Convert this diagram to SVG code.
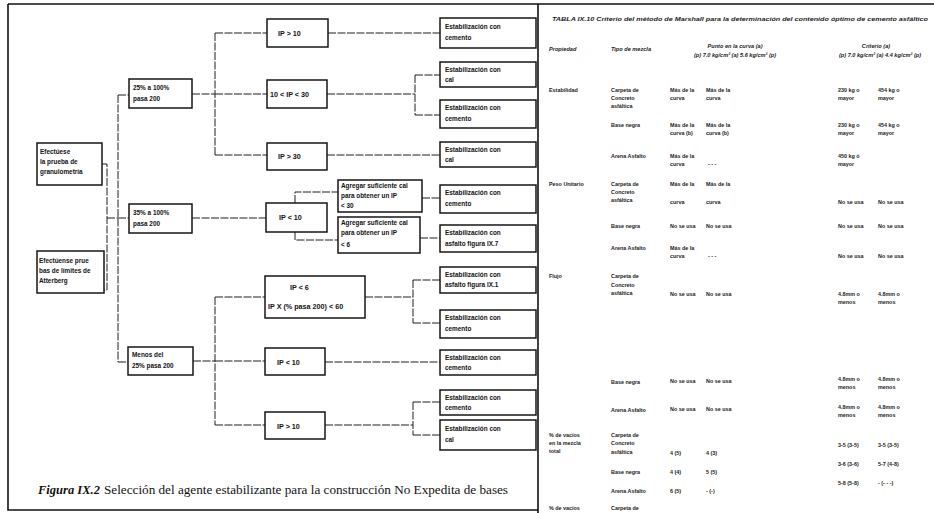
<svg xmlns="http://www.w3.org/2000/svg" width="934" height="513" viewBox="0 0 934 513">
<style>
.box{fill:#fff;stroke:#161616;stroke-width:1.5}
.ln{fill:none;stroke:#1e1e1e;stroke-width:1;stroke-dasharray:8 1.5}
.fr{fill:none;stroke:#111;stroke-width:1.6}
.t{font-family:"Liberation Sans",Arial,sans-serif;font-weight:bold;font-size:6.4px;fill:#111}
.tm{font-family:"Liberation Sans",Arial,sans-serif;font-weight:bold;font-size:7.2px;fill:#111}
.tb{font-family:"Liberation Sans",Arial,sans-serif;font-weight:bold;font-size:5.4px;fill:#222}
.th{font-family:"Liberation Sans",Arial,sans-serif;font-weight:bold;font-style:italic;font-size:5.6px;fill:#222}
.c{text-anchor:middle}
</style>
<rect x="0" y="0" width="934" height="513" fill="#fff"/>
<g id="frame">
<path class="fr" d="M8 4H934M8 4V510H538M538 4V513"/>
</g>
<g id="connectors">
<path class="ln" d="M102 164H107V290H104M107 218H118M118 95V362M118 95H129M118 218H129M118 362H128"/>
<path class="ln" d="M192 94H215M215 33V155M215 33H267M215 94H267M215 155H267"/>
<path class="ln" d="M192 218H266"/>
<path class="ln" d="M193 361H215M215 297V425M215 297H265M215 361H265M215 425H265"/>
<path class="ln" d="M328 33H440M327 94H415M415 75V115M415 75H440M415 115H440M327 155H440"/>
<path class="ln" d="M295 203V192H338M295 232V240H338M422 198H440M420 238H440"/>
<path class="ln" d="M365 297H413M413 280V323M413 280H440M413 323H440M325 362H440M325 425H413M413 402V435M413 402H440M413 435H440"/>
</g>
<g id="n-granulometria"><rect class="box" x="37" y="143" width="65" height="42"/><text class="t" x="40" y="154">Efectúese</text><text class="t" x="40" y="164">la prueba de</text><text class="t" x="40" y="174">granulometría</text></g>
<g id="n-atterberg"><rect class="box" x="37" y="251" width="67" height="42"/><text class="t" x="39" y="263">Efectúense prue</text><text class="t" x="39" y="273">bas de límites de</text><text class="t" x="39" y="283">Atterberg</text></g>
<g id="n-25"><rect class="box" x="129" y="79" width="63" height="29"/><text class="t" x="133" y="90">25% a 100%</text><text class="t" x="133" y="101">pasa 200</text></g>
<g id="n-35"><rect class="box" x="129" y="204" width="63" height="29"/><text class="t" x="133" y="215">35% a 100%</text><text class="t" x="133" y="226">pasa 200</text></g>
<g id="n-menos"><rect class="box" x="128" y="347" width="65" height="28"/><text class="t" x="132" y="357">Menos del</text><text class="t" x="132" y="368">25% pasa 200</text></g>
<g id="n-a"><rect class="box" x="267" y="19" width="61" height="28"/><text class="tm" x="278" y="36">IP &gt; 10</text></g>
<g id="n-b"><rect class="box" x="267" y="80" width="60" height="28"/><text class="tm" x="270" y="97">10 &lt; IP &lt; 30</text></g>
<g id="n-c"><rect class="box" x="267" y="143" width="60" height="27"/><text class="tm" x="278" y="159">IP &gt; 30</text></g>
<g id="n-d"><rect class="box" x="266" y="203" width="61" height="29"/><text class="tm" x="279" y="220">IP &lt; 10</text></g>
<g id="n-e"><rect class="box" x="338" y="180" width="84" height="32"/><text class="t" x="341" y="188">Agregar suficiente cal</text><text class="t" x="341" y="198">para obtener un IP</text><text class="t" x="341" y="208">&lt; 30</text></g>
<g id="n-f"><rect class="box" x="338" y="217" width="82" height="36"/><text class="t" x="341" y="225">Agregar suficiente cal</text><text class="t" x="341" y="235">para obtener un IP</text><text class="t" x="341" y="247">&lt; 6</text></g>
<g id="n-g"><rect class="box" x="265" y="276" width="100" height="42"/><text class="tm" x="290" y="290">IP &lt; 6</text><text class="tm" x="268" y="309">IP X (% pasa 200) &lt; 60</text></g>
<g id="n-h"><rect class="box" x="265" y="348" width="60" height="27"/><text class="tm" x="277" y="365">IP &lt; 10</text></g>
<g id="n-i"><rect class="box" x="265" y="412" width="60" height="27"/><text class="tm" x="277" y="429">IP &gt; 10</text></g>
<g id="l1"><rect class="box" x="440" y="18" width="96" height="30"/><text class="t" x="445" y="29">Estabilización con</text><text class="t" x="445" y="40">cemento</text></g>
<g id="l2"><rect class="box" x="440" y="62" width="96" height="25"/><text class="t" x="445" y="72">Estabilización con</text><text class="t" x="445" y="82">cal</text></g>
<g id="l3"><rect class="box" x="440" y="100" width="96" height="28"/><text class="t" x="445" y="110">Estabilización con</text><text class="t" x="445" y="121">cemento</text></g>
<g id="l4"><rect class="box" x="440" y="142" width="96" height="25"/><text class="t" x="445" y="152">Estabilización con</text><text class="t" x="445" y="162">cal</text></g>
<g id="l5"><rect class="box" x="440" y="185" width="96" height="28"/><text class="t" x="445" y="195">Estabilización con</text><text class="t" x="445" y="206">cemento</text></g>
<g id="l6"><rect class="box" x="440" y="225" width="96" height="27"/><text class="t" x="445" y="235">Estabilización con</text><text class="t" x="445" y="246">asfalto figura IX.7</text></g>
<g id="l7"><rect class="box" x="440" y="267" width="96" height="26"/><text class="t" x="445" y="277">Estabilización con</text><text class="t" x="445" y="287">asfalto figura IX.1</text></g>
<g id="l8"><rect class="box" x="440" y="310" width="96" height="28"/><text class="t" x="445" y="320">Estabilización con</text><text class="t" x="445" y="331">cemento</text></g>
<g id="l9"><rect class="box" x="440" y="350" width="96" height="25"/><text class="t" x="445" y="360">Estabilización con</text><text class="t" x="445" y="370">cemento</text></g>
<g id="l10"><rect class="box" x="440" y="390" width="96" height="25"/><text class="t" x="445" y="400">Estabilización con</text><text class="t" x="445" y="410">cemento</text></g>
<g id="l11"><rect class="box" x="440" y="420" width="96" height="30"/><text class="t" x="445" y="431">Estabilización con</text><text class="t" x="445" y="442">cal</text></g>
<g id="caption">
<text x="38" y="494" textLength="62" lengthAdjust="spacingAndGlyphs" style="font-family:'Liberation Serif',serif;font-weight:bold;font-style:italic;font-size:13.5px;fill:#111">Figura IX.2</text>
<text x="104" y="494" textLength="404" lengthAdjust="spacingAndGlyphs" style="font-family:'Liberation Serif',serif;font-size:13.5px;fill:#111">Selección del agente estabilizante para la construcción No Expedita de bases</text>
</g>
<g id="table">
<text class="th" x="552" y="21" textLength="376" lengthAdjust="spacingAndGlyphs">TABLA IX.10 Criterio del método de Marshall para la determinación del contenido óptimo de cemento asfáltico</text>
<text class="th" x="549" y="51">Propiedad</text>
<text class="th" x="611" y="51">Tipo de mezcla</text>
<text class="th c" x="735" y="48">Punto en la curva (a)</text>
<text class="th c" x="735" y="57">(p) 7.0 kg/cm² (a) 5.6 kg/cm² (p)</text>
<text class="th c" x="876" y="48">Criterio (a)</text>
<text class="th c" x="880" y="57">(p) 7.0 kg/cm² (a) 4.4 kg/cm² (p)</text>

<text class="tb" x="549" y="92">Estabilidad</text>
<text class="tb" x="611" y="92">Carpeta de</text><text class="tb" x="611" y="100">Concreto</text><text class="tb" x="611" y="108">asfáltica</text>
<text class="tb" x="670" y="92">Más de la</text><text class="tb" x="670" y="100">curva</text>
<text class="tb" x="706" y="92">Más de la</text><text class="tb" x="706" y="100">curva</text>
<text class="tb" x="838" y="92">230 kg o</text><text class="tb" x="838" y="100">mayor</text>
<text class="tb" x="878" y="92">454 kg o</text><text class="tb" x="878" y="100">mayor</text>

<text class="tb" x="611" y="127">Base negra</text>
<text class="tb" x="670" y="127">Más de la</text><text class="tb" x="670" y="135">curva (b)</text>
<text class="tb" x="706" y="127">Más de la</text><text class="tb" x="706" y="135">curva (b)</text>
<text class="tb" x="838" y="127">230 kg o</text><text class="tb" x="838" y="135">mayor</text>
<text class="tb" x="878" y="127">454 kg o</text><text class="tb" x="878" y="135">mayor</text>

<text class="tb" x="611" y="158">Arena Asfalto</text>
<text class="tb" x="670" y="158">Más de la</text><text class="tb" x="670" y="166">curva</text>
<text class="tb" x="708" y="166">- - -</text>
<text class="tb" x="838" y="158">450 kg ó</text><text class="tb" x="838" y="166">mayor</text>

<text class="tb" x="549" y="186">Peso Unitario</text>
<text class="tb" x="611" y="186">Carpeta de</text><text class="tb" x="611" y="194">Concreto</text><text class="tb" x="611" y="202">asfáltica</text>
<text class="tb" x="670" y="186">Más de la</text><text class="tb" x="670" y="204">curva</text>
<text class="tb" x="706" y="186">Más de la</text><text class="tb" x="706" y="204">curva</text>
<text class="tb" x="838" y="204">No se usa</text><text class="tb" x="878" y="204">No se usa</text>

<text class="tb" x="611" y="228">Base negra</text>
<text class="tb" x="670" y="228">No se usa</text><text class="tb" x="706" y="228">No se usa</text>
<text class="tb" x="838" y="228">No se usa</text><text class="tb" x="878" y="228">No se usa</text>

<text class="tb" x="611" y="250">Arena Asfalto</text>
<text class="tb" x="670" y="250">Más de la</text><text class="tb" x="670" y="258">curva</text>
<text class="tb" x="708" y="258">- - -</text>
<text class="tb" x="838" y="258">No se usa</text><text class="tb" x="878" y="258">No se usa</text>

<text class="tb" x="549" y="278">Flujo</text>
<text class="tb" x="611" y="278">Carpeta de</text><text class="tb" x="611" y="287">Concreto</text><text class="tb" x="611" y="295">asfáltica</text>
<text class="tb" x="670" y="296">No se usa</text><text class="tb" x="706" y="296">No se usa</text>
<text class="tb" x="838" y="296">4.8mm o</text><text class="tb" x="838" y="304">menos</text>
<text class="tb" x="878" y="296">4.8mm o</text><text class="tb" x="878" y="304">menos</text>

<text class="tb" x="611" y="384">Base negra</text>
<text class="tb" x="670" y="383">No se usa</text><text class="tb" x="706" y="383">No se usa</text>
<text class="tb" x="838" y="381">4.8mm o</text><text class="tb" x="838" y="389">menos</text>
<text class="tb" x="878" y="381">4.8mm o</text><text class="tb" x="878" y="389">menos</text>

<text class="tb" x="611" y="412">Arena Asfalto</text>
<text class="tb" x="670" y="411">No se usa</text><text class="tb" x="706" y="411">No se usa</text>
<text class="tb" x="838" y="409">4.8mm o</text><text class="tb" x="838" y="417">menos</text>
<text class="tb" x="878" y="409">4.8mm o</text><text class="tb" x="878" y="417">menos</text>

<text class="tb" x="549" y="437">% de vacíos</text><text class="tb" x="549" y="445">en la mezcla</text><text class="tb" x="549" y="453">total</text>
<text class="tb" x="611" y="437">Carpeta de</text><text class="tb" x="611" y="445">Concreto</text><text class="tb" x="611" y="454">asfáltica</text>
<text class="tb" x="670" y="455">4 (5)</text><text class="tb" x="706" y="455">4 (3)</text>
<text class="tb" x="838" y="447">3-5 (3-5)</text><text class="tb" x="878" y="447">3-5 (3-5)</text>

<text class="tb" x="611" y="474">Base negra</text>
<text class="tb" x="670" y="474">4 (4)</text><text class="tb" x="706" y="474">5 (5)</text>
<text class="tb" x="838" y="466">3-6 (3-6)</text><text class="tb" x="878" y="466">5-7 (4-8)</text>

<text class="tb" x="611" y="493">Arena Asfalto</text>
<text class="tb" x="670" y="493">6 (5)</text><text class="tb" x="706" y="493">- (-)</text>
<text class="tb" x="838" y="485">5-8 (5-8)</text><text class="tb" x="878" y="485">- (- - -)</text>

<text class="tb" x="549" y="510">% de vacíos</text>
<text class="tb" x="611" y="510">Carpeta de</text>
</g>
</svg>
